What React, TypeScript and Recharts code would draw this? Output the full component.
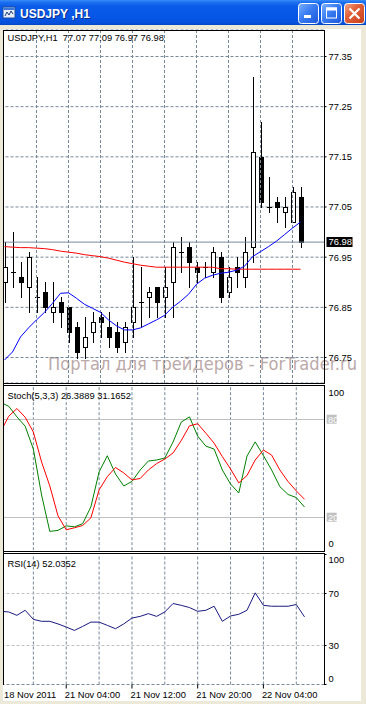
import React from 'react'
import { ComposedChart, Bar, Line, XAxis, YAxis, CartesianGrid, ReferenceLine } from 'recharts'

const FONT = '"Liberation Sans", Arial, sans-serif'
const FRAME = '#ECE9D8'
const GRID = '#778899'

// hourly bars, USDJPY H1
const times = [
  '18 Nov 20:00', '18 Nov 21:00', '18 Nov 22:00', '18 Nov 23:00',
  '21 Nov 00:00', '21 Nov 01:00', '21 Nov 02:00', '21 Nov 03:00',
  '21 Nov 04:00', '21 Nov 05:00', '21 Nov 06:00', '21 Nov 07:00',
  '21 Nov 08:00', '21 Nov 09:00', '21 Nov 10:00', '21 Nov 11:00',
  '21 Nov 12:00', '21 Nov 13:00', '21 Nov 14:00', '21 Nov 15:00',
  '21 Nov 16:00', '21 Nov 17:00', '21 Nov 18:00', '21 Nov 19:00',
  '21 Nov 20:00', '21 Nov 21:00', '21 Nov 22:00', '21 Nov 23:00',
  '22 Nov 00:00', '22 Nov 01:00', '22 Nov 02:00', '22 Nov 03:00',
  '22 Nov 04:00', '22 Nov 05:00', '22 Nov 06:00', '22 Nov 07:00',
  '22 Nov 08:00', '22 Nov 09:00',
]

const open = [76.90, 76.92, 76.91, 76.89, 76.87, 76.88, 76.84, 76.86, 76.85, 76.81, 76.77, 76.80, 76.83, 76.81, 76.80, 76.78, 76.82, 76.86, 76.87, 76.89, 76.87, 76.90, 76.96, 76.97, 76.93, 76.93, 76.92, 76.95, 76.88, 76.93, 76.91, 76.97, 77.15, 77.05, 77.06, 77.04, 77.02, 77.07]
const high = [76.98, 77.00, 76.94, 76.96, 76.91, 76.90, 76.90, 76.87, 76.85, 76.82, 76.83, 76.84, 76.84, 76.84, 76.82, 76.82, 76.95, 76.93, 76.89, 76.89, 76.93, 76.98, 76.99, 76.98, 76.94, 76.94, 76.97, 76.96, 76.93, 76.95, 76.99, 77.31, 77.22, 77.11, 77.07, 77.07, 77.09, 77.09]
const low = [76.86, 76.89, 76.87, 76.84, 76.84, 76.84, 76.82, 76.81, 76.78, 76.75, 76.75, 76.78, 76.79, 76.77, 76.76, 76.76, 76.79, 76.81, 76.83, 76.83, 76.83, 76.83, 76.92, 76.89, 76.90, 76.91, 76.91, 76.86, 76.87, 76.89, 76.89, 76.94, 77.05, 77.04, 77.02, 77.01, 77.02, 76.97]
const close = [76.93, 76.92, 76.90, 76.95, 76.87, 76.85, 76.85, 76.84, 76.80, 76.76, 76.79, 76.82, 76.82, 76.79, 76.77, 76.81, 76.85, 76.86, 76.88, 76.86, 76.89, 76.97, 76.96, 76.94, 76.92, 76.93, 76.96, 76.87, 76.91, 76.92, 76.96, 77.16, 77.06, 77.05, 77.05, 77.05, 77.08, 76.98]

// moving averages (red = slow, blue = fast)
const maSlow = [76.971, 76.970, 76.969, 76.969, 76.968, 76.967, 76.965, 76.962, 76.960, 76.958, 76.955, 76.953, 76.951, 76.948, 76.944, 76.940, 76.937, 76.934, 76.932, 76.930, 76.930, 76.930, 76.930, 76.930, 76.930, 76.930, 76.930, 76.927, 76.927, 76.926, 76.926, 76.926, 76.926, 76.926, 76.926, 76.926, 76.926, 76.926]
const maFast = [76.745, 76.761, 76.791, 76.809, 76.825, 76.840, 76.858, 76.878, 76.879, 76.868, 76.856, 76.848, 76.840, 76.825, 76.813, 76.805, 76.805, 76.809, 76.817, 76.825, 76.834, 76.850, 76.862, 76.876, 76.896, 76.908, 76.914, 76.918, 76.920, 76.924, 76.932, 76.951, 76.961, 76.971, 76.982, 76.995, 77.008, 77.020]

// Stoch(5,3,3)
const stochK = [90.5, 88.1, 81.6, 75.9, 61.9, 33.8, 11.5, 12.1, 14.9, 14.3, 16.2, 26.5, 47.9, 57.8, 46.6, 39.3, 42.1, 49.1, 54.6, 55.2, 56.4, 66.2, 78.4, 81.6, 69.8, 63.7, 61.9, 49.1, 40.5, 35.0, 57.6, 66.3, 57.9, 49.1, 38.9, 34.1, 32.2, 26.3889]
const stochD = [72.3, 82.0, 86.7, 81.4, 72.3, 54.0, 39.3, 21.0, 12.5, 13.7, 15.1, 19.8, 36.9, 45.0, 50.6, 47.3, 43.0, 43.9, 49.1, 53.0, 55.8, 59.5, 67.1, 76.1, 77.4, 71.6, 65.5, 57.3, 49.7, 41.2, 45.7, 55.2, 61.3, 58.2, 49.1, 42.0, 36.3, 31.1652]

// RSI(14)
const rsi = [56.3, 55.8, 53.2, 57.1, 50.1, 48.6, 48.6, 46.6, 44.2, 41.6, 44.7, 48.0, 48.0, 45.5, 42.9, 46.6, 51.1, 52.4, 54.5, 52.4, 55.8, 62.3, 60.9, 59.2, 56.3, 57.1, 60.2, 48.6, 52.7, 54.0, 57.1, 70.5, 60.9, 60.2, 60.2, 60.2, 61.5, 52.0352]

const priceTicks = [76.75, 76.85, 76.95, 77.05, 77.15, 77.25, 77.35]
const stochTicks = [0, 20, 80, 100]
const rsiTicks = [0, 30, 70, 100]
const gridIdx = [4, 8, 12, 16, 20, 24, 28, 32, 36]
const xTickIdx = [0, 8, 16, 24, 32]
const xTickText = ['18 Nov 2011', '21 Nov 04:00', '21 Nov 12:00', '21 Nov 20:00', '22 Nov 04:00']

const data = times.map((t, i) => ({
  t,
  o: open[i],
  h: high[i],
  l: low[i],
  c: close[i],
  maSlow: maSlow[i],
  maFast: maFast[i],
  k: stochK[i],
  d: stochD[i],
  rsi: rsi[i],
}))

const last = data.length - 1

function Candle(props: any) {
  const { x, y, width, height, payload } = props
  if (!payload || !isFinite(y) || !isFinite(height)) return null
  const { o, h, l, c } = payload
  const cx = Math.floor(x + width / 2) + 0.5
  const py = (p: number) => (h === l ? y : y + ((h - p) / (h - l)) * height)
  const top = Math.round(py(Math.max(o, c))) + 0.5
  const bot = Math.round(py(Math.min(o, c))) + 0.5
  return (
    <g>
      <line x1={cx} x2={cx} y1={Math.round(y)} y2={Math.round(y + height) + 1} stroke="#000" />
      {o === c ? (
        <line x1={cx - 2.5} x2={cx + 2.5} y1={top} y2={top} stroke="#000" />
      ) : (
        <rect x={cx - 2} y={top} width={4} height={bot - top} fill={c > o ? '#fff' : '#000'} stroke="#000" />
      )}
    </g>
  )
}

const txt = { fontSize: 9.33, fontFamily: FONT }

const priceTick = (props: any) => (
  <text x={props.x} y={props.y + 3.4} fill="#000" {...txt}>
    {Number(props.payload.value).toFixed(2)}
  </text>
)

const stochTick = (props: any) => {
  const v = props.payload.value
  const yy = props.y + (v === 100 ? 5.9 : v === 0 ? -6.2 : 0)
  if (v === 80 || v === 20) {
    return (
      <g>
        <rect x={props.x - 1.8} y={yy - 4.8} width={10} height={9} fill="#C0C0C0" />
        <text x={props.x - 0.5} y={yy + 3.4} fill="#fff" {...txt}>{v}</text>
      </g>
    )
  }
  return <text x={props.x} y={yy + 3.4} fill="#000" {...txt}>{v}</text>
}

const rsiTick = (props: any) => {
  const v = props.payload.value
  const yy = props.y + (v === 100 ? 5.5 : v === 0 ? -6.2 : 0)
  return <text x={props.x} y={yy + 3.4} fill="#000" {...txt}>{v}</text>
}

const timeTick = (props: any) => {
  const k = xTickIdx.findIndex((i) => times[i] === props.payload.value)
  return (
    <text x={Math.max(props.x - 1.5, 4)} y={props.y + 7.8} fill="#000" {...txt}>
      {xTickText[k]}
    </text>
  )
}

const bidLabel = (props: any) => {
  const vb = props.viewBox
  if (!vb) return null
  const bx = vb.x + vb.width + 2
  const by = Math.round(vb.y) - 5
  return (
    <g>
      <rect x={bx} y={by} width={26} height={10} fill="#000" />
      <text x={bx + 2} y={by + 8.3} fill="#fff" {...txt}>{close[last].toFixed(2)}</text>
    </g>
  )
}

const vGrid = gridIdx.map((i) => (
  <ReferenceLine key={'g' + i} x={times[i]} stroke={GRID} strokeDasharray="3 2" />
))

const layer: React.CSSProperties = { position: 'absolute', left: 0, top: 0 }

function TitleBar() {
  return (
    <>
      <defs>
        <linearGradient id="tb" x1="0" y1="0" x2="0" y2="1">
          <stop offset="0%" stopColor="#3A8CF6" />
          <stop offset="10%" stopColor="#1C6EF0" />
          <stop offset="25%" stopColor="#0A5CE8" />
          <stop offset="70%" stopColor="#0656E6" />
          <stop offset="92%" stopColor="#0651DC" />
          <stop offset="100%" stopColor="#0446C4" />
        </linearGradient>
        <linearGradient id="btn" x1="0" y1="0" x2="1" y2="1">
          <stop offset="0%" stopColor="#7DB2FF" />
          <stop offset="45%" stopColor="#3A7CF2" />
          <stop offset="100%" stopColor="#1B57DA" />
        </linearGradient>
        <linearGradient id="cls" x1="0" y1="0" x2="1" y2="1">
          <stop offset="0%" stopColor="#F3A889" />
          <stop offset="40%" stopColor="#E2613A" />
          <stop offset="100%" stopColor="#C43F1A" />
        </linearGradient>
      </defs>
      <rect x={0} y={0} width={366} height={25} fill="url(#tb)" />
      <rect x={3} y={7} width={12} height={11} fill="#E6EEFA" stroke="#1E4C9A" />
      <rect x={3.5} y={7.5} width={11} height={2.5} fill="#3C78D8" />
      <path d="M5 16 L7 12 L9 15 L11 11 L13 14" fill="none" stroke="#1A3A7A" />
      <text x={21} y={19} fill="#0B2C8C" fontSize={12} fontWeight="bold" fontFamily={FONT}>USDJPY ,H1</text>
      <text x={20} y={18} fill="#fff" fontSize={12} fontWeight="bold" fontFamily={FONT}>USDJPY ,H1</text>
      <rect x={298.5} y={3.5} width={20} height={20} rx={3} fill="url(#btn)" stroke="#fff" />
      <rect x={304} y={15} width={7} height={3} fill="#fff" />
      <rect x={321.5} y={3.5} width={20} height={20} rx={3} fill="url(#btn)" stroke="#fff" />
      <rect x={326.5} y={8} width={10} height={10} fill="none" stroke="#fff" />
      <rect x={326} y={7.5} width={11} height={3} fill="#fff" />
      <rect x={344.5} y={3.5} width={20} height={20} rx={3} fill="url(#cls)" stroke="#fff" />
      <path d="M349.5 8.5 L359.5 18.5 M359.5 8.5 L349.5 18.5" stroke="#fff" strokeWidth={2.2} />
    </>
  )
}

export default function App() {
  return (
    <div style={{ position: 'absolute', left: 0, top: 0, width: 366, height: 704, background: FRAME, overflow: 'hidden' }}>
      <div style={{ position: 'absolute', left: 3, top: 29, width: 358, height: 672, background: '#fff' }} />

      <svg width={366} height={704} style={layer}>
        <text x={48} y={370} fill="#BBA9A9" fontSize={18} fontFamily='"DejaVu Sans", sans-serif' textLength={309} lengthAdjust="spacingAndGlyphs">
          Портал для трейдеров - ForTrader.ru
        </text>
      </svg>

      <div style={layer}>
        <ComposedChart width={366} height={390} data={data} margin={{ top: 30, right: 0, bottom: 7, left: 0.5 }}>
          <CartesianGrid horizontal vertical={false} stroke={GRID} strokeDasharray="3 2" />
          <XAxis dataKey="t" hide padding={{ left: 0, right: 20 }} />
          <YAxis
            orientation="right"
            width={41.5}
            type="number"
            domain={[76.69917, 77.40282]}
            allowDataOverflow
            ticks={priceTicks}
            interval={0}
            axisLine={false}
            tickLine={{ stroke: '#000' }}
            tickSize={2}
            tickMargin={2}
            tick={priceTick}
          />
          {vGrid}
          <ReferenceLine y={close[last]} stroke={GRID} label={bidLabel} />
          <Bar dataKey={(d: any) => [d.l, d.h]} shape={Candle} barSize={5} isAnimationActive={false} />
          <Line type="linear" dataKey="maSlow" stroke="#FF0000" strokeWidth={1} dot={false} isAnimationActive={false} />
          <Line type="linear" dataKey="maFast" stroke="#0000FF" strokeWidth={1} dot={false} isAnimationActive={false} />
        </ComposedChart>
      </div>

      <div style={layer}>
        <ComposedChart width={366} height={560} data={data} margin={{ top: 386.83, right: 0, bottom: 9.83, left: 0.5 }}>
          <XAxis dataKey="t" hide padding={{ left: 0, right: 20 }} />
          <YAxis
            orientation="right"
            width={41.5}
            type="number"
            domain={[0, 100]}
            ticks={stochTicks}
            interval={0}
            axisLine={false}
            tickLine={false}
            tickSize={2}
            tickMargin={2}
            tick={stochTick}
          />
          {vGrid}
          <ReferenceLine y={80} stroke="#C0C0C0" />
          <ReferenceLine y={20} stroke="#C0C0C0" />
          <Line type="linear" dataKey="k" stroke="#008000" strokeWidth={1} dot={false} isAnimationActive={false} />
          <Line type="linear" dataKey="d" stroke="#FF0000" strokeWidth={1} dot={false} isAnimationActive={false} />
        </ComposedChart>
      </div>

      <div style={layer}>
        <ComposedChart width={366} height={704} data={data} margin={{ top: 554.5, right: 0, bottom: 0, left: 0.5 }}>
          <XAxis
            dataKey="t"
            height={19.5}
            padding={{ left: 0, right: 20 }}
            ticks={xTickIdx.map((i) => times[i])}
            interval={0}
            axisLine={false}
            tickLine={{ stroke: '#000' }}
            tickSize={4}
            tickMargin={2}
            tick={timeTick}
          />
          <YAxis
            orientation="right"
            width={41.5}
            type="number"
            domain={[0, 100]}
            ticks={rsiTicks}
            interval={0}
            axisLine={false}
            tickLine={{ stroke: '#000' }}
            tickSize={2}
            tickMargin={2}
            tick={rsiTick}
          />
          {vGrid}
          <ReferenceLine y={70} stroke="#C0C0C0" strokeDasharray="3 2" />
          <ReferenceLine y={30} stroke="#C0C0C0" strokeDasharray="3 2" />
          <ReferenceLine y={0} stroke={GRID} strokeDasharray="3 2" />
          <Line type="linear" dataKey="rsi" stroke="#1A1A80" strokeWidth={1} dot={false} isAnimationActive={false} />
        </ComposedChart>
      </div>

      <svg width={366} height={704} style={{ ...layer, pointerEvents: 'none' }}>
        <rect x={0} y={25} width={3} height={679} fill={FRAME} />
        <rect x={0} y={25} width={366} height={4} fill={FRAME} />
        <rect x={361} y={25} width={5} height={679} fill={FRAME} />
        <rect x={0} y={701} width={366} height={3} fill={FRAME} />
        <TitleBar />
        <g stroke="#000" strokeWidth={1}>
          <line x1={3} x2={325} y1={30.5} y2={30.5} />
          <line x1={3.5} x2={3.5} y1={30} y2={685} />
          <line x1={324.5} x2={324.5} y1={30} y2={384} />
          <line x1={3} x2={325} y1={383.5} y2={383.5} />
          <line x1={3} x2={325} y1={385.5} y2={385.5} />
          <line x1={324.5} x2={324.5} y1={385} y2={552} />
          <line x1={3} x2={325} y1={551.5} y2={551.5} />
          <line x1={3} x2={325} y1={553.5} y2={553.5} />
          <line x1={324.5} x2={324.5} y1={553} y2={685} />
        </g>
        <text x={7.5} y={41.3} fill="#000" {...txt}>
          {`USDJPY,H1\u00a0\u00a0${open[last].toFixed(2)} ${high[last].toFixed(2)} ${low[last].toFixed(2)} ${close[last].toFixed(2)}`}
        </text>
        <text x={7.5} y={398.7} fill="#000" {...txt}>
          {`Stoch(5,3,3) ${stochK[last].toFixed(4)} ${stochD[last].toFixed(4)}`}
        </text>
        <text x={7.5} y={566.7} fill="#000" {...txt}>
          {`RSI(14) ${rsi[last].toFixed(4)}`}
        </text>
      </svg>
    </div>
  )
}
